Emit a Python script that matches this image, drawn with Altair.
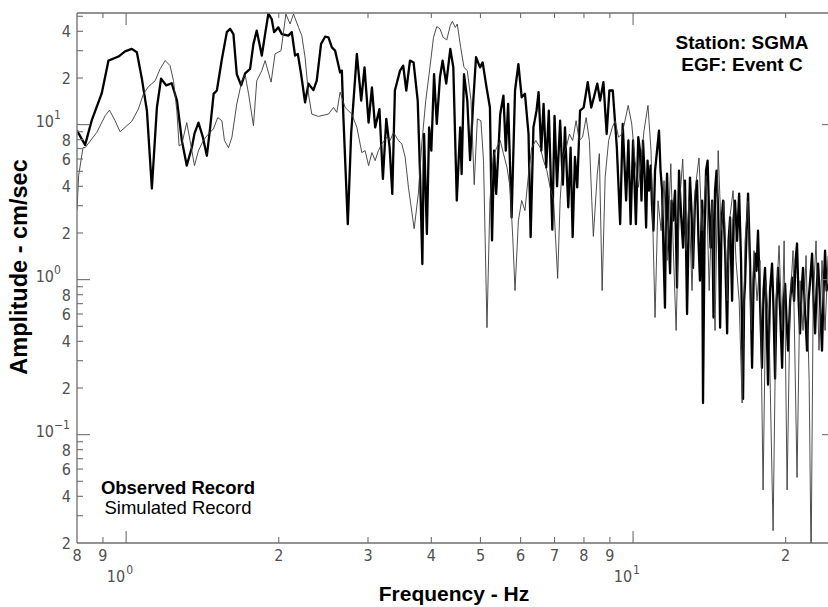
import math

import altair as alt
import pandas as pd

# Observed spectrum (thick line): (frequency Hz, amplitude cm/sec)
observed = [
    (0.80, 9.15), (0.83, 7.4), (0.855, 10.6), (0.895, 15.9), (0.923, 25.9), (0.966, 27.5),
    (0.995, 29.7), (1.026, 30.8), (1.05, 29.3), (1.074, 19.8), (1.099, 12.3), (1.124, 3.87),
    (1.15, 12.9), (1.172, 19.8), (1.20, 17.9), (1.23, 18.5), (1.26, 14.3), (1.288, 7.9),
    (1.317, 5.44), (1.348, 7.14), (1.364, 8.75), (1.389, 10.3), (1.417, 8.3), (1.443, 6.3),
    (1.465, 9.6), (1.488, 15.8), (1.51, 16.6), (1.545, 26.5), (1.58, 39.5), (1.604, 41.5),
    (1.628, 38.4), (1.653, 21.2), (1.686, 17.9), (1.717, 21.4), (1.756, 22.9), (1.783, 33.2),
    (1.81, 40.4), (1.852, 27.9), (1.88, 38.4), (1.908, 52.0), (1.937, 48.0), (1.958, 39.5),
    (1.996, 42.4), (2.027, 38.4), (2.089, 37.5), (2.122, 39.5), (2.154, 27.9), (2.181, 28.6),
    (2.214, 21.2), (2.254, 13.9), (2.289, 18.4), (2.341, 16.7), (2.377, 19.2), (2.424, 33.2),
    (2.469, 36.9), (2.507, 36.6), (2.546, 31.5), (2.584, 30.0), (2.643, 21.7), (2.664, 22.3),
    (2.683, 11.1), (2.737, 2.28), (2.779, 8.75), (2.852, 28.6), (2.909, 14.3), (2.953, 23.4),
    (3.008, 10.3), (3.054, 17.4), (3.099, 9.6), (3.16, 12.6), (3.21, 4.47), (3.26, 10.9),
    (3.31, 7.1), (3.35, 3.57), (3.39, 16.6), (3.47, 22.3), (3.52, 24.0), (3.57, 16.6),
    (3.63, 25.9), (3.69, 25.2), (3.76, 14.3), (3.80, 4.8), (3.84, 1.26), (3.87, 8.7),
    (3.92, 1.97), (3.96, 9.6), (4.00, 6.8), (4.05, 21.2), (4.10, 10.1), (4.16, 20.2),
    (4.21, 25.9), (4.28, 18.4), (4.36, 30.8), (4.42, 23.4), (4.49, 3.24), (4.56, 9.6),
    (4.59, 4.8), (4.64, 21.2), (4.71, 14.3), (4.77, 5.9), (4.84, 14.3), (4.90, 27.2),
    (4.99, 23.4), (5.05, 25.2), (5.14, 17.4), (5.22, 12.9), (5.27, 1.79), (5.32, 6.8),
    (5.37, 3.57), (5.47, 11.7), (5.55, 15.4), (5.61, 6.8), (5.67, 13.6), (5.76, 2.52),
    (5.85, 16.6), (5.94, 24.6), (6.03, 15.0), (6.12, 15.8), (6.22, 8.7), (6.28, 1.88),
    (6.36, 9.6), (6.45, 12.3), (6.51, 16.2), (6.59, 6.8), (6.66, 13.6), (6.74, 5.3),
    (6.82, 12.3), (6.93, 2.1), (7.00, 11.4), (7.08, 4.0), (7.18, 10.6), (7.27, 4.1),
    (7.34, 9.6), (7.45, 2.93), (7.53, 7.1), (7.60, 1.88), (7.68, 6.2), (7.76, 3.94),
    (7.86, 12.3), (7.99, 12.9), (8.14, 18.8), (8.27, 12.9), (8.37, 15.0), (8.50, 18.4),
    (8.61, 14.3), (8.74, 18.8), (8.87, 8.7), (8.98, 16.6), (9.12, 16.6), (9.29, 7.1),
    (9.43, 2.28), (9.54, 10.1), (9.69, 3.24), (9.79, 7.9), (9.89, 2.28), (10.0, 7.9),
    (10.13, 2.28), (10.24, 8.3), (10.32, 6.8), (10.39, 3.23), (10.46, 7.88), (10.54, 4.69),
    (10.61, 2.17), (10.68, 5.86), (10.75, 3.75), (10.83, 5.44), (10.90, 3.0), (10.97, 2.07),
    (11.05, 5.05), (11.15, 6.8), (11.25, 9.15), (11.33, 5.05), (11.41, 3.75), (11.48, 1.54),
    (11.56, 0.66), (11.62, 3.23), (11.67, 4.83), (11.75, 2.07), (11.83, 1.10), (11.91, 3.23),
    (11.99, 2.4), (12.10, 3.75), (12.21, 0.89), (12.32, 5.05), (12.44, 2.59), (12.55, 1.61),
    (12.66, 4.35), (12.78, 0.60), (12.87, 2.07), (12.95, 4.55), (13.04, 2.79), (13.13, 1.19),
    (13.25, 3.23), (13.37, 4.35), (13.46, 1.78), (13.55, 0.985), (13.68, 3.23), (13.74, 0.16),
    (13.84, 2.07), (13.93, 5.05), (14.03, 5.86), (14.12, 2.79), (14.22, 1.61), (14.32, 3.23),
    (14.41, 0.57), (14.51, 3.75), (14.61, 5.05), (14.72, 2.79), (14.78, 1.54), (14.85, 0.49),
    (14.95, 2.4), (15.05, 3.23), (15.19, 1.54), (15.33, 0.45), (15.43, 1.78), (15.54, 2.52),
    (15.61, 1.33), (15.68, 0.73), (15.78, 2.4), (15.89, 3.23), (16.04, 1.78), (16.19, 3.59),
    (16.33, 1.33), (16.48, 0.17), (16.56, 0.73), (16.63, 0.94), (16.75, 2.07), (16.86, 3.59),
    (17.01, 1.33), (17.17, 0.27), (17.29, 0.985), (17.40, 1.47), (17.52, 1.14), (17.64, 2.07),
    (17.80, 0.73), (17.96, 0.27), (18.09, 0.85), (18.21, 1.19), (18.34, 0.544), (18.46, 0.21),
    (18.63, 0.85), (18.80, 1.27), (18.93, 0.63), (19.06, 0.23), (19.19, 0.73), (19.32, 1.19),
    (19.50, 0.63), (19.68, 0.27), (19.81, 0.73), (19.95, 0.94), (20.08, 0.544), (20.22, 0.348),
    (20.41, 0.73), (20.59, 1.03), (20.78, 0.73), (20.92, 1.33), (21.06, 1.71), (21.21, 0.73),
    (21.35, 0.45), (21.50, 0.85), (21.64, 1.19), (21.84, 0.63), (22.04, 0.348), (22.19, 0.73),
    (22.35, 0.985), (22.55, 1.47), (22.70, 0.73), (22.86, 0.45), (23.01, 0.85), (23.17, 1.27),
    (23.38, 0.73), (23.59, 0.348), (23.76, 0.85), (23.92, 1.54), (24.08, 0.85), (24.25, 0.94),
]

# Simulated spectrum (thin line): (frequency Hz, amplitude cm/sec)
simulated = [
    (0.80, 2.8), (0.806, 4.69), (0.822, 7.1), (0.83, 7.1), (0.875, 8.9), (0.909, 11.4),
    (0.927, 12.4), (0.951, 10.6), (0.973, 9.0), (0.995, 9.6), (1.026, 10.5), (1.057, 12.6),
    (1.082, 15.8), (1.107, 17.6), (1.141, 19.2), (1.167, 22.9), (1.194, 25.9), (1.221, 24.0),
    (1.24, 19.2), (1.259, 12.3), (1.272, 7.3), (1.288, 7.5), (1.317, 10.3), (1.337, 7.9),
    (1.364, 5.44), (1.389, 6.8), (1.42, 7.9), (1.453, 8.7), (1.487, 9.4), (1.516, 11.1),
    (1.545, 10.6), (1.563, 7.9), (1.592, 7.1), (1.617, 8.3), (1.653, 13.6), (1.692, 19.2),
    (1.717, 21.0), (1.744, 15.8), (1.783, 9.85), (1.81, 19.2), (1.852, 22.3), (1.88, 25.9),
    (1.932, 18.8), (1.967, 28.6), (2.021, 30.0), (2.066, 51.7), (2.106, 44.6), (2.139, 51.7),
    (2.188, 42.4), (2.221, 37.5), (2.254, 27.2), (2.289, 15.8), (2.324, 11.7), (2.395, 11.3),
    (2.507, 11.7), (2.565, 12.9), (2.604, 12.0), (2.643, 16.2), (2.704, 12.9), (2.787, 11.7),
    (2.852, 9.6), (2.917, 6.6), (2.961, 6.8), (3.008, 5.44), (3.054, 6.6), (3.099, 5.86),
    (3.145, 6.8), (3.194, 7.5), (3.268, 8.3), (3.317, 7.9), (3.368, 8.9), (3.445, 7.9),
    (3.498, 7.5), (3.551, 6.2), (3.605, 3.94), (3.70, 2.13), (3.77, 3.57), (3.83, 7.5),
    (3.90, 14.3), (3.96, 21.2), (4.04, 36.6), (4.10, 42.9), (4.16, 41.5), (4.22, 36.6),
    (4.29, 35.2), (4.36, 43.6), (4.40, 46.4), (4.46, 42.4), (4.50, 44.6), (4.57, 31.5),
    (4.64, 23.4), (4.71, 22.3), (4.79, 14.3), (4.86, 4.1), (4.93, 10.9), (5.01, 10.6),
    (5.07, 5.86), (5.15, 0.49), (5.22, 3.24), (5.30, 6.2), (5.38, 7.1), (5.47, 7.9),
    (5.55, 6.5), (5.64, 5.3), (5.72, 3.94), (5.79, 1.88), (5.85, 0.85), (5.94, 2.4),
    (6.03, 3.24), (6.12, 2.79), (6.22, 4.8), (6.31, 7.1), (6.43, 7.9), (6.56, 7.1),
    (6.66, 5.86), (6.76, 5.05), (6.86, 3.94), (6.97, 3.24), (7.10, 1.02), (7.18, 3.24),
    (7.27, 6.2), (7.38, 7.1), (7.49, 8.7), (7.60, 7.9), (7.72, 10.6), (7.83, 7.9),
    (7.95, 8.3), (8.08, 11.1), (8.20, 7.9), (8.29, 3.24), (8.35, 1.9), (8.50, 4.8),
    (8.58, 6.5), (8.69, 0.85), (8.81, 4.6), (8.95, 7.9), (9.10, 9.6), (9.22, 10.6),
    (9.36, 8.3), (9.51, 8.7), (9.64, 10.6), (9.78, 13.3), (9.94, 10.1), (10.09, 5.86),
    (10.24, 3.94), (10.38, 5.86), (10.51, 9.15), (10.70, 13.3), (10.85, 6.8), (11.05, 0.57),
    (11.2, 3.23), (11.36, 2.07), (11.51, 4.35), (11.67, 1.33), (11.87, 5.6), (11.99, 1.78),
    (12.16, 0.47), (12.32, 2.79), (12.53, 6.0), (12.72, 1.54), (12.89, 3.23), (13.07, 0.85),
    (13.25, 3.75), (13.49, 6.1), (13.68, 2.07), (13.94, 4.69), (14.13, 0.85), (14.32, 3.23),
    (14.51, 0.47), (14.72, 6.8), (14.92, 2.07), (15.12, 3.23), (15.33, 0.73), (15.54, 2.59),
    (15.75, 3.75), (15.96, 1.33), (16.19, 0.73), (16.41, 0.16), (16.63, 1.78), (16.85, 3.23),
    (17.09, 0.47), (17.32, 1.54), (17.56, 0.73), (17.80, 1.33), (18.05, 0.044), (18.29, 0.985),
    (18.55, 0.47), (18.89, 0.024), (19.15, 0.73), (19.41, 1.66), (19.68, 0.47), (19.86, 1.78),
    (20.13, 0.044), (20.41, 0.73), (20.68, 1.54), (21.06, 0.053), (21.35, 0.985), (21.64, 0.47),
    (21.94, 1.43), (22.25, 0.223), (22.45, 0.015), (22.66, 0.73), (22.96, 1.78), (23.27, 0.35),
    (23.59, 1.33), (23.92, 0.47), (24.25, 1.43),
]

# Axis tick values
x_labelled = [0.8, 0.9, 2, 3, 4, 5, 6, 7, 8, 9, 20]
x_minor = [0.9, 2, 3, 4, 5, 6, 7, 8, 9, 20]
x_major = [1, 10]
x_decades = [(1, "0"), (10, "1")]
y_labelled = [0.02, 0.04, 0.06, 0.08, 0.2, 0.4, 0.6, 0.8, 2, 4, 6, 8, 20, 40]
y_minor = [0.03, 0.04, 0.05, 0.06, 0.07, 0.08, 0.09,
           0.2, 0.3, 0.4, 0.5, 0.6, 0.7, 0.8, 0.9,
           2, 3, 4, 5, 6, 7, 8, 9, 20, 30, 40, 50]
y_major = [0.1, 1, 10]
y_decades = [(0.1, "\u22121"), (1, "0"), (10, "1")]

W, H = 751, 530
AXIS_GREY = "#6e6e6e"
LABEL_GREY = "#505050"
TICK_FONT = "Liberation Sans Narrow, DejaVu Sans Condensed, Liberation Sans"
TEXT_FONT = "Liberation Sans, Arial, Helvetica"

xs = alt.Scale(type="log", domain=[0.8, 24.24], nice=False)
ys = alt.Scale(type="log", domain=[0.02, 52.5], nice=False)


def leading_digit(v):
    """0.04 -> '4', 0.8 -> '8', 20 -> '2'"""
    return str(int(round(v / 10 ** math.floor(math.log10(v) + 1e-9))))


def series_frame(pairs):
    return pd.DataFrame({"i": range(len(pairs)),
                         "f": [p[0] for p in pairs],
                         "a": [p[1] for p in pairs]})


obs_line = alt.Chart(series_frame(observed)).mark_line(
    color="#000000", strokeWidth=2.3, clip=True, strokeJoin="round"
).encode(x=alt.X("f:Q", scale=xs, axis=None),
         y=alt.Y("a:Q", scale=ys, axis=None),
         order="i:Q")

sim_line = alt.Chart(series_frame(simulated)).mark_line(
    color="#3a3a3a", strokeWidth=0.9, clip=True, strokeJoin="round"
).encode(x=alt.X("f:Q", scale=xs, axis=None),
         y=alt.Y("a:Q", scale=ys, axis=None),
         order="i:Q")


def xticks(vals, y0, y1):
    return alt.Chart(pd.DataFrame({"v": vals})).mark_rule(color=AXIS_GREY, strokeWidth=1.1).encode(
        x=alt.X("v:Q", scale=xs, axis=None), y=alt.value(y0), y2=alt.value(y1))


def yticks(vals, x0, x1):
    return alt.Chart(pd.DataFrame({"v": vals})).mark_rule(color=AXIS_GREY, strokeWidth=1.1).encode(
        y=alt.Y("v:Q", scale=ys, axis=None), x=alt.value(x0), x2=alt.value(x1))


tick_layers = [
    xticks(x_minor, H, H - 6), xticks(x_major, H, H - 12),
    xticks(x_minor, 0, 5), xticks(x_major, 0, 12),
    yticks(y_minor, 0, 6), yticks(y_major, 0, 13),
    yticks(y_major, W - 6, W),
]

# frame on the top, left and bottom sides
frame = pd.DataFrame({"v": [0]})
borders = [
    alt.Chart(frame).mark_rule(color=AXIS_GREY, strokeWidth=1.3).encode(
        x=alt.value(0), x2=alt.value(W), y=alt.value(0)),
    alt.Chart(frame).mark_rule(color=AXIS_GREY, strokeWidth=1.3).encode(
        x=alt.value(0), x2=alt.value(W), y=alt.value(H)),
    alt.Chart(frame).mark_rule(color=AXIS_GREY, strokeWidth=1.3).encode(
        x=alt.value(0), y=alt.value(0), y2=alt.value(H)),
]

# Digit tick labels
xlab = pd.DataFrame({"v": x_labelled, "t": [leading_digit(v) for v in x_labelled]})
x_digits = alt.Chart(xlab).mark_text(font=TICK_FONT, fontSize=16, color=LABEL_GREY,
                                     align="center", baseline="top").encode(
    x=alt.X("v:Q", scale=xs, axis=None), y=alt.value(H + 5), text="t:N")
ylab = pd.DataFrame({"v": y_labelled, "t": [leading_digit(v) for v in y_labelled]})
y_digits = alt.Chart(ylab).mark_text(font=TICK_FONT, fontSize=16, color=LABEL_GREY,
                                     align="right", baseline="middle", dy=1).encode(
    y=alt.Y("v:Q", scale=ys, axis=None), x=alt.value(-6), text="t:N")

# Decade labels written as 10 with a raised exponent
xdec = pd.DataFrame({"v": [d[0] for d in x_decades], "e": [d[1] for d in x_decades]})
x_ten = alt.Chart(xdec).mark_text(font=TICK_FONT, fontSize=16, color=LABEL_GREY, align="right",
                                  baseline="alphabetic", dx=-1).encode(
    x=alt.X("v:Q", scale=xs, axis=None), y=alt.value(H + 39), text=alt.value("10"))
x_exp = alt.Chart(xdec).mark_text(font=TICK_FONT, fontSize=12, color=LABEL_GREY, align="left",
                                  baseline="alphabetic", dx=0).encode(
    x=alt.X("v:Q", scale=xs, axis=None), y=alt.value(H + 31), text="e:N")

ydec = pd.DataFrame({"v": [d[0] for d in y_decades], "e": [d[1] for d in y_decades]})
y_ten = alt.Chart(ydec).mark_text(font=TICK_FONT, fontSize=16, color=LABEL_GREY, align="right",
                                  baseline="alphabetic", dy=2).encode(
    y=alt.Y("v:Q", scale=ys, axis=None), x=alt.value(-23), text=alt.value("10"))
y_exp = alt.Chart(ydec).mark_text(font=TICK_FONT, fontSize=12, color=LABEL_GREY, align="left",
                                  baseline="alphabetic", dy=-6).encode(
    y=alt.Y("v:Q", scale=ys, axis=None), x=alt.value(-23), text="e:N")


def label(text, x, y, size, weight="bold", angle=0):
    return alt.Chart(pd.DataFrame({"t": [text]})).mark_text(
        font=TEXT_FONT, fontSize=size, fontWeight=weight, color="#000000",
        align="center", baseline="middle", angle=angle
    ).encode(x=alt.value(x), y=alt.value(y), text="t:N")


texts = [
    label("Amplitude - cm/sec", -57, 254, 23.5, angle=270),
    label("Frequency - Hz", 377, 582, 21),
    label("Station: SGMA", 665, 30, 19),
    label("EGF: Event C", 665, 52, 19),
    label("Observed Record", 101, 475, 18.5),
    label("Simulated Record", 101, 495, 18.5, weight="normal"),
]

chart = alt.layer(
    obs_line, sim_line, *borders, *tick_layers,
    x_digits, y_digits, x_ten, x_exp, y_ten, y_exp, *texts
).properties(
    width=W, height=H,
    padding={"left": 77, "top": 13, "right": 0, "bottom": 64},
    autosize=alt.AutoSizeParams(type="none"),
    background="white",
).configure_view(stroke=None)

chart.save("out.html", embed_options={"renderer": "svg", "actions": False})
